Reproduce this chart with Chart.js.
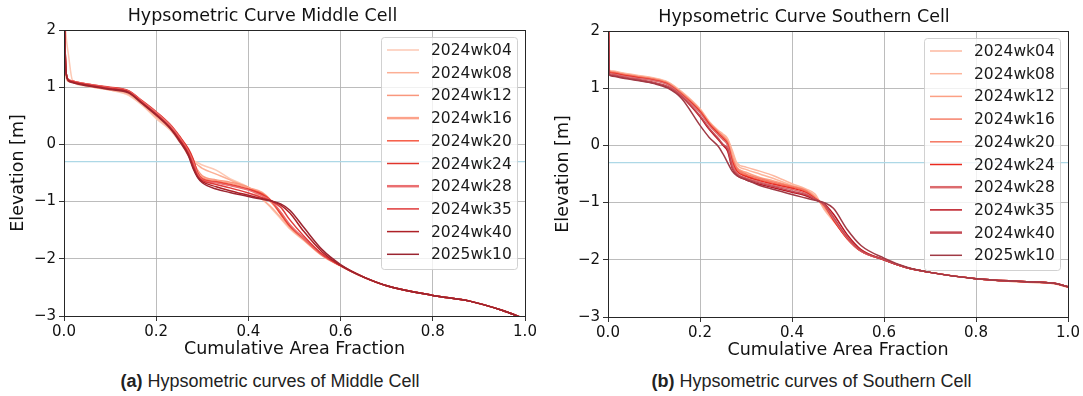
<!DOCTYPE html>
<html>
<head>
<meta charset="utf-8">
<script src="https://cdn.jsdelivr.net/npm/chart.js@4.4.1/dist/chart.umd.min.js"></script>
<style>
  body { margin: 0; background: #fff; width: 1083px; height: 396px; position: relative; overflow: hidden; }
  #middleChart { position: absolute; left: 0; top: 0; }
  #southChart { position: absolute; left: 540px; top: 1px; }
  .caption { position: absolute; top: 371px; font-family: "Liberation Sans", Arial, sans-serif; font-size: 18px; color: #222; text-align: center; }
</style>
</head>
<body>
<canvas id="middleChart" width="540" height="364"></canvas>
<canvas id="southChart" width="543" height="364"></canvas>
<div class="caption" style="left:0;width:540px"><b>(a)</b> Hypsometric curves of Middle Cell</div>
<div class="caption" style="left:540px;width:543px"><b>(b)</b> Hypsometric curves of Southern Cell</div>
<script>
const weeks = ['2024wk04','2024wk08','2024wk12','2024wk16','2024wk20','2024wk24','2024wk28','2024wk35','2024wk40','2025wk10'];
const waterLevel = -0.3;

// Middle cell - cumulative area fraction / elevation
const xMiddle = [0, 0.004, 0.01, 0.018, 0.04, 0.07, 0.1, 0.14, 0.17, 0.2, 0.23, 0.25, 0.27, 0.28, 0.29, 0.3, 0.33, 0.36, 0.4, 0.43, 0.45, 0.47, 0.49, 0.52, 0.56, 0.6, 0.65, 0.7, 0.8, 0.88, 0.95, 1.0];
const mid2024wk04 = [2.6, 1.95, 1.55, 1.13, 1.03, 0.99, 0.95, 0.86, 0.68, 0.45, 0.25, 0.05, -0.18, -0.28, -0.32, -0.36, -0.45, -0.6, -0.75, -0.95, -1.12, -1.3, -1.48, -1.68, -1.95, -2.13, -2.33, -2.47, -2.64, -2.74, -2.9, -3.05];
const mid2024wk08 = [2.6, 1.2, 1.1, 1.08, 1.04, 0.99, 0.95, 0.88, 0.7, 0.48, 0.27, 0.08, -0.2, -0.3, -0.36, -0.42, -0.52, -0.62, -0.77, -0.96, -1.1, -1.28, -1.46, -1.67, -1.94, -2.12, -2.32, -2.47, -2.64, -2.74, -2.9, -3.05];
const mid2024wk12 = [2.6, 1.25, 1.11, 1.09, 1.05, 1.0, 0.97, 0.9, 0.72, 0.51, 0.3, 0.1, -0.15, -0.3, -0.45, -0.55, -0.62, -0.66, -0.75, -0.9, -1.02, -1.22, -1.44, -1.66, -1.94, -2.12, -2.32, -2.47, -2.64, -2.74, -2.9, -3.05];
const mid2024wk16 = [2.6, 1.3, 1.12, 1.1, 1.06, 1.02, 0.98, 0.92, 0.74, 0.54, 0.32, 0.12, -0.12, -0.28, -0.48, -0.58, -0.63, -0.68, -0.76, -0.84, -0.99, -1.2, -1.42, -1.65, -1.93, -2.12, -2.32, -2.47, -2.64, -2.74, -2.9, -3.05];
const mid2024wk20 = [2.6, 1.3, 1.13, 1.11, 1.07, 1.03, 0.99, 0.93, 0.75, 0.56, 0.34, 0.14, -0.1, -0.27, -0.5, -0.6, -0.65, -0.7, -0.78, -0.86, -0.99, -1.22, -1.43, -1.65, -1.93, -2.12, -2.32, -2.47, -2.64, -2.74, -2.9, -3.05];
const mid2024wk24 = [2.6, 1.3, 1.13, 1.11, 1.07, 1.03, 1.0, 0.94, 0.76, 0.57, 0.35, 0.15, -0.08, -0.25, -0.5, -0.61, -0.66, -0.71, -0.79, -0.88, -0.99, -1.2, -1.42, -1.64, -1.92, -2.12, -2.32, -2.47, -2.64, -2.74, -2.9, -3.05];
const mid2024wk28 = [2.6, 1.3, 1.13, 1.11, 1.07, 1.03, 0.99, 0.93, 0.75, 0.56, 0.34, 0.13, -0.12, -0.3, -0.52, -0.62, -0.67, -0.72, -0.8, -0.9, -0.99, -1.18, -1.4, -1.64, -1.93, -2.12, -2.32, -2.47, -2.64, -2.74, -2.9, -3.05];
const mid2024wk35 = [2.6, 1.3, 1.12, 1.1, 1.06, 1.02, 0.98, 0.92, 0.73, 0.53, 0.3, 0.1, -0.15, -0.35, -0.55, -0.63, -0.7, -0.76, -0.85, -0.93, -0.99, -1.1, -1.32, -1.6, -1.92, -2.12, -2.32, -2.47, -2.64, -2.74, -2.9, -3.05];
const mid2024wk40 = [2.6, 1.3, 1.12, 1.09, 1.05, 1.01, 0.97, 0.91, 0.72, 0.52, 0.29, 0.08, -0.18, -0.4, -0.57, -0.65, -0.74, -0.81, -0.89, -0.95, -0.99, -1.06, -1.2, -1.52, -1.88, -2.12, -2.32, -2.47, -2.64, -2.74, -2.9, -3.05];
const mid2025wk10 = [2.6, 1.3, 1.11, 1.08, 1.04, 1.0, 0.96, 0.9, 0.71, 0.51, 0.28, 0.06, -0.2, -0.42, -0.58, -0.67, -0.78, -0.84, -0.91, -0.96, -0.99, -1.04, -1.15, -1.45, -1.84, -2.1, -2.32, -2.47, -2.64, -2.74, -2.9, -3.05];

// Southern cell
const xSouth = [0, 0.003, 0.01, 0.03, 0.06, 0.1, 0.13, 0.16, 0.2, 0.22, 0.24, 0.25, 0.26, 0.27, 0.28, 0.3, 0.33, 0.36, 0.4, 0.43, 0.45, 0.47, 0.49, 0.52, 0.55, 0.6, 0.65, 0.7, 0.8, 0.9, 0.97, 1.0];
const south2024wk04 = [2.6, 1.32, 1.3, 1.27, 1.23, 1.18, 1.11, 0.94, 0.64, 0.42, 0.26, 0.2, 0.12, -0.08, -0.3, -0.38, -0.45, -0.53, -0.67, -0.76, -0.85, -1.12, -1.32, -1.6, -1.82, -2.0, -2.14, -2.22, -2.33, -2.39, -2.42, -2.48];
const south2024wk08 = [2.6, 1.31, 1.29, 1.26, 1.22, 1.17, 1.1, 0.93, 0.63, 0.41, 0.25, 0.18, 0.1, -0.12, -0.33, -0.42, -0.5, -0.58, -0.7, -0.78, -0.88, -1.1, -1.3, -1.6, -1.83, -2.0, -2.14, -2.22, -2.33, -2.39, -2.42, -2.48];
const south2024wk12 = [2.6, 1.3, 1.28, 1.25, 1.21, 1.16, 1.09, 0.92, 0.62, 0.4, 0.24, 0.16, 0.07, -0.18, -0.38, -0.47, -0.56, -0.62, -0.71, -0.78, -0.9, -1.08, -1.3, -1.62, -1.84, -2.0, -2.14, -2.22, -2.33, -2.38, -2.41, -2.47];
const south2024wk16 = [2.6, 1.3, 1.28, 1.25, 1.21, 1.16, 1.09, 0.91, 0.61, 0.39, 0.23, 0.15, 0.05, -0.22, -0.4, -0.5, -0.58, -0.64, -0.72, -0.79, -0.92, -1.06, -1.3, -1.62, -1.84, -2.0, -2.14, -2.22, -2.33, -2.38, -2.41, -2.47];
const south2024wk20 = [2.6, 1.29, 1.27, 1.24, 1.2, 1.15, 1.08, 0.9, 0.6, 0.38, 0.22, 0.14, 0.04, -0.25, -0.42, -0.52, -0.6, -0.66, -0.73, -0.8, -0.92, -1.05, -1.3, -1.63, -1.85, -2.0, -2.14, -2.22, -2.33, -2.38, -2.41, -2.47];
const south2024wk24 = [2.6, 1.28, 1.26, 1.23, 1.19, 1.14, 1.07, 0.89, 0.59, 0.37, 0.2, 0.12, 0.02, -0.28, -0.45, -0.54, -0.62, -0.68, -0.75, -0.82, -0.93, -1.04, -1.3, -1.63, -1.85, -2.0, -2.14, -2.22, -2.33, -2.38, -2.41, -2.47];
const south2024wk28 = [2.6, 1.27, 1.25, 1.22, 1.18, 1.13, 1.06, 0.88, 0.57, 0.35, 0.18, 0.1, 0.0, -0.32, -0.48, -0.57, -0.64, -0.7, -0.77, -0.84, -0.94, -1.04, -1.28, -1.62, -1.85, -2.0, -2.14, -2.22, -2.33, -2.38, -2.41, -2.47];
const south2024wk35 = [2.6, 1.24, 1.22, 1.19, 1.15, 1.09, 1.02, 0.85, 0.5, 0.28, 0.1, 0.0, -0.1, -0.4, -0.52, -0.6, -0.68, -0.74, -0.82, -0.88, -0.95, -1.02, -1.2, -1.56, -1.82, -2.0, -2.14, -2.22, -2.33, -2.38, -2.41, -2.47];
const south2024wk40 = [2.6, 1.25, 1.23, 1.2, 1.16, 1.1, 1.03, 0.86, 0.52, 0.3, 0.12, 0.02, -0.06, -0.38, -0.5, -0.58, -0.66, -0.72, -0.8, -0.86, -0.94, -1.03, -1.25, -1.6, -1.84, -2.0, -2.14, -2.22, -2.33, -2.38, -2.41, -2.47];
const south2025wk10 = [2.6, 1.23, 1.21, 1.18, 1.14, 1.08, 1.0, 0.82, 0.35, 0.14, -0.02, -0.15, -0.3, -0.45, -0.53, -0.6, -0.7, -0.77, -0.86, -0.92, -0.96, -1.0, -1.1, -1.47, -1.75, -1.97, -2.13, -2.22, -2.33, -2.38, -2.41, -2.47];

const middleSeries = [mid2024wk04, mid2024wk08, mid2024wk12, mid2024wk16, mid2024wk20, mid2024wk24, mid2024wk28, mid2024wk35, mid2024wk40, mid2025wk10];
const southSeries = [south2024wk04, south2024wk08, south2024wk12, south2024wk16, south2024wk20, south2024wk24, south2024wk28, south2024wk35, south2024wk40, south2025wk10];

const middleColors = ['#fdc9b4','#fcaf95','#f9977d','#fca28a','#f65a44','#e0362c','#ea6f71','#df3a3a','#ae2127','#9b2530'];
const southColors = ['#fdb8a0','#fdb59c','#fca084','#f6806a','#f57660','#ea2a1f','#dc6b6e','#bb1520','#c44b55','#a03a45'];
const middleLegendWidths = [1.5,1.5,1.5,2.5,1.5,1.5,2.5,1.5,1.5,1.5];
const southLegendWidths = [1.5,1.5,1.5,1.5,1.5,1.5,2.5,1.5,2.5,1.5];

const font = 'DejaVu Sans';

// frame + legend drawn inside the plot, like matplotlib
const frameAndLegend = {
  id: 'frameAndLegend',
  afterDatasetsDraw(chart, args, opts) {
    const ctx = chart.ctx;
    const a = chart.chartArea;
    ctx.save();
    ctx.strokeStyle = '#262626';
    ctx.lineWidth = 1;
    ctx.strokeRect(Math.round(a.left) + 0.5, Math.round(a.top) + 0.5, Math.round(a.right - a.left), Math.round(a.bottom - a.top));

    const w = 136, h = 232;
    const x0 = Math.round(a.right) - 8 - w;
    const y0 = Math.round(a.top) + 7;
    ctx.fillStyle = 'rgba(255,255,255,0.8)';
    ctx.strokeStyle = 'rgba(204,204,204,0.9)';
    ctx.beginPath();
    ctx.roundRect(x0 + 0.5, y0 + 0.5, w, h, 3);
    ctx.fill();
    ctx.stroke();

    ctx.font = '15.5px "' + font + '"';
    ctx.textBaseline = 'middle';
    let row = 0;
    chart.data.datasets.forEach((ds) => {
      if (!ds.label) return;
      const y = y0 + 13 + row * 22.7;
      ctx.strokeStyle = ds.borderColor;
      ctx.lineWidth = opts.widths[row];
      ctx.beginPath();
      ctx.moveTo(x0 + 6, y);
      ctx.lineTo(x0 + 38, y);
      ctx.stroke();
      ctx.fillStyle = '#1a1a1a';
      ctx.fillText(ds.label, x0 + 50, y + 1);
      row++;
    });
    ctx.restore();
  }
};

function makeChart(id, title, xs, series, colors, widths, yTitlePad, yWidth) {
  const datasets = series.map((ys, i) => ({
    label: weeks[i],
    data: xs.map((x, j) => ({ x: x, y: ys[j] })),
    borderColor: colors[i],
    borderWidth: 1.5,
    pointRadius: 0,
    cubicInterpolationMode: 'monotone',
    order: -i
  }));
  datasets.push({
    data: [{ x: 0, y: waterLevel }, { x: 1, y: waterLevel }],
    borderColor: '#add8e6',
    borderWidth: 1.2,
    pointRadius: 0,
    order: 100
  });

  return new Chart(document.getElementById(id), {
    type: 'line',
    data: { datasets: datasets },
    plugins: [frameAndLegend],
    options: {
      responsive: false,
      animation: false,
      devicePixelRatio: 1,
      layout: { padding: { left: 0, right: 15, top: 0, bottom: 0 } },
      plugins: {
        legend: { display: false },
        tooltip: { enabled: false },
        title: {
          display: true,
          text: title,
          color: '#111',
          font: { family: font, size: 17.5, weight: 'normal' },
          padding: { top: 6, bottom: 3 }
        },
        frameAndLegend: { widths: widths }
      },
      scales: {
        x: {
          type: 'linear',
          min: 0,
          max: 1,
          afterFit(s) { s.height = 48; },
          ticks: {
            stepSize: 0.2,
            maxRotation: 0,
            padding: 2,
            color: '#111',
            font: { family: font, size: 15 },
            callback: (v) => v.toFixed(1)
          },
          grid: { color: 'rgba(176,176,176,0.85)', lineWidth: 1, tickLength: 5, tickColor: '#333' },
          border: { display: false },
          title: {
            display: true,
            text: 'Cumulative Area Fraction',
            color: '#111',
            font: { family: font, size: 17.5 },
            padding: { top: 0, bottom: 4 }
          }
        },
        y: {
          min: -3,
          max: 2,
          afterFit(s) { s.width = yWidth; },
          ticks: {
            stepSize: 1,
            padding: 3,
            color: '#111',
            font: { family: font, size: 15 },
            callback: (v) => String(v).replace('-', '\u2212')
          },
          grid: { color: 'rgba(176,176,176,0.85)', lineWidth: 1, tickLength: 5, tickColor: '#333' },
          border: { display: false },
          title: {
            display: true,
            text: 'Elevation [m]',
            color: '#111',
            font: { family: font, size: 17.5 },
            padding: { top: yTitlePad, bottom: 0 }
          }
        }
      }
    }
  });
}

makeChart('middleChart', 'Hypsometric Curve Middle Cell', xMiddle, middleSeries, middleColors, middleLegendWidths, 8, 64);
makeChart('southChart', 'Hypsometric Curve Southern Cell', xSouth, southSeries, southColors, southLegendWidths, 13, 68);
</script>
</body>
</html>
